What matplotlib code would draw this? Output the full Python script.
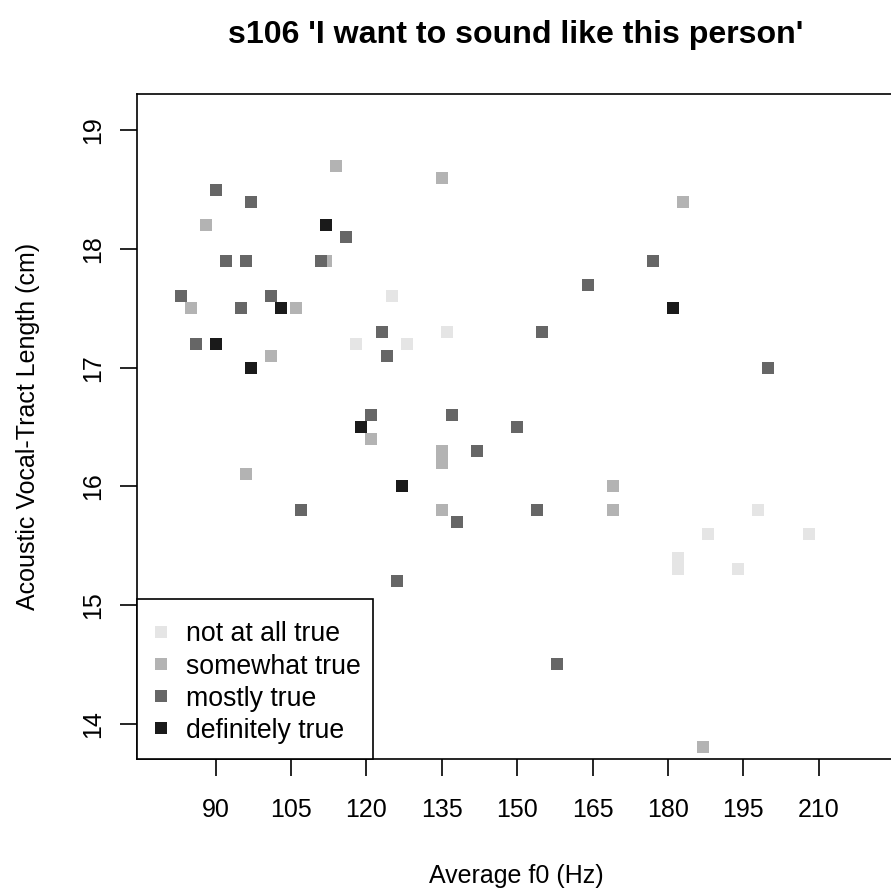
import matplotlib
matplotlib.use("Agg")
import matplotlib.pyplot as plt
from matplotlib.patches import Rectangle

plt.rcParams['font.family'] = ['Liberation Sans', 'DejaVu Sans']

# rating categories and their grey levels
categories = ["not at all true", "somewhat true", "mostly true", "definitely true"]
colors = ["#E5E5E5", "#B3B3B3", "#666666", "#1A1A1A"]

# average f0 (Hz) and vocal-tract length (cm) per rating
f0_not = [125, 136, 118, 128, 198, 188, 208, 182, 182, 194]
vtl_not = [17.6, 17.3, 17.2, 17.2, 15.8, 15.6, 15.6, 15.4, 15.3, 15.3]

f0_some = [114, 135, 183, 88, 112, 85, 106, 101, 121, 135, 135, 96, 169, 135, 169, 187]
vtl_some = [18.7, 18.6, 18.4, 18.2, 17.9, 17.5, 17.5, 17.1, 16.4, 16.3, 16.2, 16.1, 16.0, 15.8, 15.8, 13.8]

f0_most = [90, 97, 116, 92, 96, 111, 177, 164, 83, 95, 101, 86, 123, 155, 124, 200,
           121, 137, 150, 142, 107, 138, 154, 126, 158]
vtl_most = [18.5, 18.4, 18.1, 17.9, 17.9, 17.9, 17.9, 17.7, 17.6, 17.5, 17.6, 17.2, 17.3, 17.3, 17.1, 17.0,
            16.6, 16.6, 16.5, 16.3, 15.8, 15.7, 15.8, 15.2, 14.5]

f0_def = [112, 103, 181, 90, 97, 119, 127]
vtl_def = [18.2, 17.5, 17.5, 17.2, 17.0, 16.5, 16.0]

x_ticks = [90, 105, 120, 135, 150, 165, 180, 195, 210]
y_ticks = [14, 15, 16, 17, 18, 19]

series = [(f0_not, vtl_not), (f0_some, vtl_some), (f0_most, vtl_most), (f0_def, vtl_def)]

fig = plt.figure(figsize=(8.91, 8.90), dpi=100)
ax_h = (759.3 - 94) / 890
ax = fig.add_axes([137 / 891, 1 - 759.3 / 890, (895 - 137) / 891, ax_h])

for (xs, ys), lab, col in zip(series, categories, colors):
    ax.plot(xs, ys, linestyle='none', marker='s', markersize=8.6,
            markeredgewidth=0, color=col, label=lab)

ax.set_xlim(74.33, 225.2)
ax.set_ylim(13.70, 19.306)
ax.set_xticks(x_ticks)
ax.set_yticks(y_ticks)
ax.set_yticklabels([str(v) for v in y_ticks], rotation=90, va='center')
ax.tick_params(axis='both', labelsize=18, length=12.2, width=1.2)
ax.tick_params(axis='x', pad=15.8)
ax.tick_params(axis='y', pad=11.1)

for sp in ax.spines.values():
    sp.set_linewidth(1.2)

ax.set_xlabel('Average f0 (Hz)', fontsize=18, labelpad=30)
ax.set_ylabel('Acoustic Vocal-Tract Length (cm)', fontsize=18, labelpad=29.5)
ax.set_title("s106 'I want to sound like this person'", fontsize=23.1,
             fontweight='bold', pad=36.9)

# legend box drawn by hand, the legend itself sits inside it without a frame
leg_w = 236 / 758
leg_h = 160 / (759.3 - 94)
ax.add_patch(Rectangle((0, 0), leg_w, leg_h, transform=ax.transAxes,
                       facecolor='white', edgecolor='black', linewidth=1.2,
                       zorder=4, clip_on=False))
leg = ax.legend(loc='lower left', bbox_to_anchor=(0, -4 / 665.3, leg_w, 0.3), mode='expand',
                fontsize=19.2, frameon=False,
                borderaxespad=0, handlelength=0.33, handletextpad=0.77,
                labelspacing=0.23, borderpad=0.73)
leg.set_zorder(6)

fig.savefig('out.png', dpi=100)
